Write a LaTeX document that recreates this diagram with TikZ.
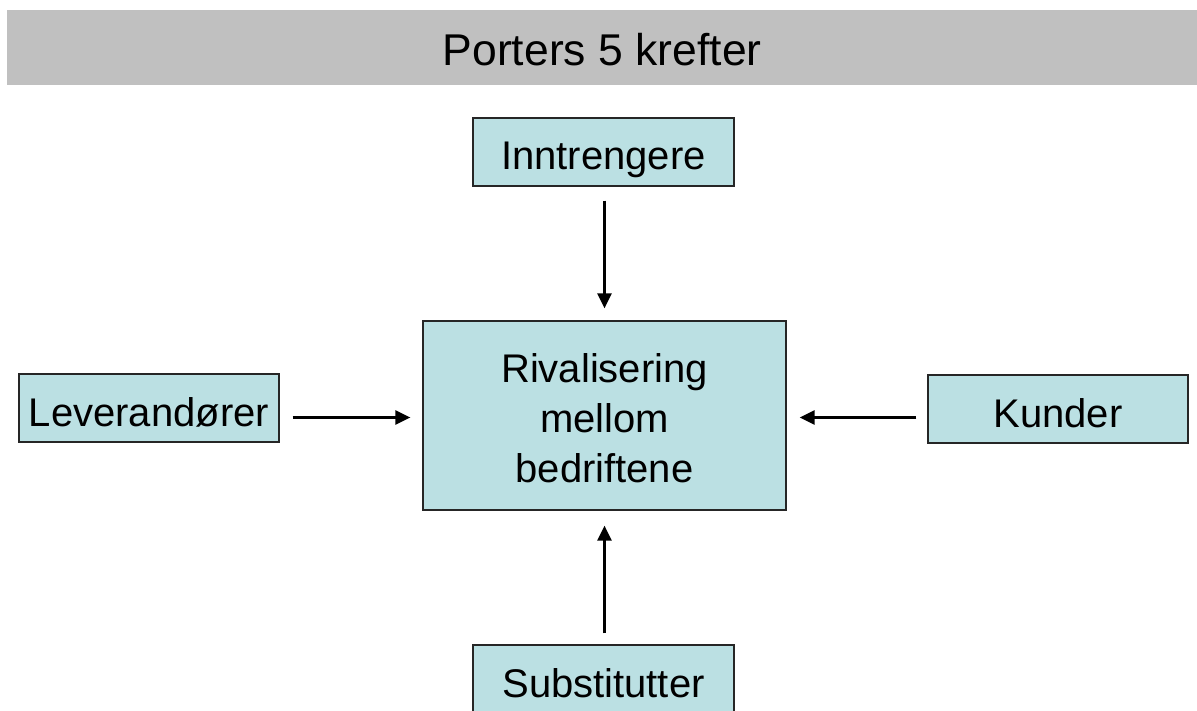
\documentclass[tikz,border=0pt]{standalone}
\usepackage{fontspec}
\setmainfont{Liberation Sans}
\usetikzlibrary{arrows.meta,calc}
\definecolor{boxfill}{HTML}{BBE0E3}
\definecolor{titlegray}{HTML}{C0C0C0}
\tikzset{
  forcebox/.style={draw=black!85, line width=1.2pt, fill=boxfill, rectangle, inner sep=0pt,
    font=\fontsize{40}{50}\selectfont, align=center},
  onelinebox/.style={forcebox, text height=36pt, text depth=0pt, minimum height=68pt},
  arr/.style={line width=2.6pt, -{Triangle[length=15pt,width=14pt]}}
}
\begin{document}
\begin{tikzpicture}[x=1pt,y=-1pt]
\clip (0,0) rectangle (1197,711);
\fill[white] (0,0) rectangle (1197,711);
\node[fill=titlegray, minimum width=1190pt, minimum height=75pt, inner sep=0pt, anchor=north west,
  text height=35pt, text depth=0pt,
  font=\fontsize{44.5}{50}\selectfont] (title) at (7,10) {Porters 5 krefter};
\node[onelinebox, minimum width=261pt] (inn) at (603.5,152) {Inntrengere};
\node[forcebox, minimum width=363pt, minimum height=189pt] (main) at (604.5,415.5) {\rule{0pt}{35pt}Rivalisering\\mellom\\bedriftene};
\node[onelinebox, minimum width=260pt] (lev) at (149,408) {Leverandører};
\node[onelinebox, minimum width=260pt] (kun) at (1058,409) {Kunder};
\node[onelinebox, minimum width=261pt] (sub) at (603.5,679) {Substitutter};
\draw[arr] ($(main.north |- inn.south)+(0,14)$) -- ($(main.north)+(0,-12)$);
\draw[arr] ($(main.south |- sub.north)+(0,-11)$) -- ($(main.south)+(0,15)$);
\draw[arr] ($(lev.east |- main.west)+(13,2)$) -- ($(main.west)+(-12,2)$);
\draw[arr] ($(kun.west |- main.east)+(-11,2)$) -- ($(main.east)+(13,2)$);
\end{tikzpicture}
\end{document}
